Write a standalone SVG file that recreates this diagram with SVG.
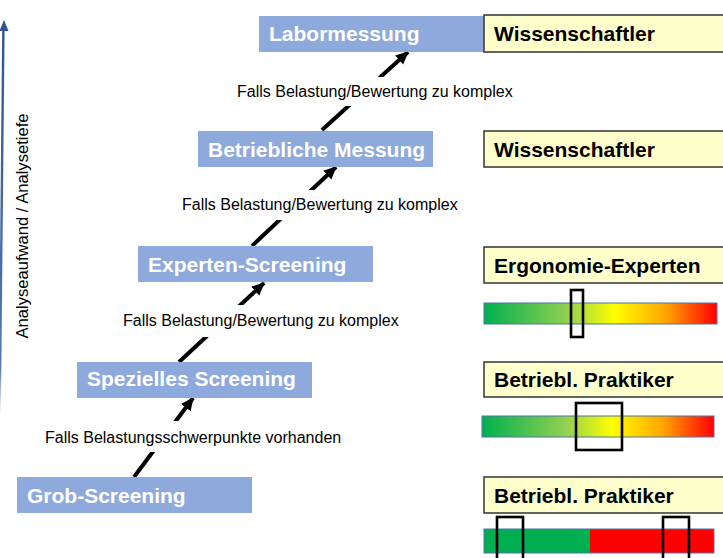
<svg xmlns="http://www.w3.org/2000/svg" width="723" height="558" viewBox="0 0 723 558">
<style>
.step{fill:#8EA9DB}
.stepT{font-family:"Liberation Sans",Arial,sans-serif;font-weight:bold;font-size:21px;fill:#fff}
.role{fill:#FFFFCC;stroke:#3F3F3F;stroke-width:1.6}
.roleT{font-family:"Liberation Sans",Arial,sans-serif;font-weight:bold;font-size:21px;fill:#000}
.lbl{font-family:"Liberation Sans",Arial,sans-serif;font-size:16px;fill:#000}
.lblbg{fill:#fff}
.conn{stroke:#000;stroke-width:4;fill:none;marker-end:url(#ah)}
.bar{stroke:#4F74A8;stroke-width:1}
.mark{fill:none;stroke:#000;stroke-width:2.6}
</style>
<defs>
<marker id="ah" markerUnits="userSpaceOnUse" markerWidth="14" markerHeight="14" viewBox="0 0 14 14" refX="12" refY="7" orient="auto">
<path d="M0,1 L13,7 L0,13 Z" fill="#000"/>
</marker>
<linearGradient id="grad" x1="0" y1="0" x2="1" y2="0">
<stop offset="0" stop-color="#00B050"/>
<stop offset="0.36" stop-color="#92D050"/>
<stop offset="0.56" stop-color="#FFFF00"/>
<stop offset="0.78" stop-color="#FFA500"/>
<stop offset="1" stop-color="#FF0000"/>
</linearGradient>
<linearGradient id="axisg" x1="0" y1="1" x2="0" y2="0">
<stop offset="0" stop-color="#2F5597" stop-opacity="0"/>
<stop offset="0.12" stop-color="#2F5597" stop-opacity="0.8"/>
<stop offset="1" stop-color="#2F5597"/>
</linearGradient>
</defs>
<rect width="723" height="558" fill="#fff"/>

<g id="axis">
<rect x="2.2" y="28" width="2.4" height="385" fill="url(#axisg)" transform="rotate(0.55 4 28)"/>
<path d="M4,20 L8.5,31 L-0.5,31 Z" fill="#2F5597"/>
<text class="lbl" transform="translate(28,226) rotate(-90)" text-anchor="middle" style="font-size:16.6px">Analyseaufwand / Analysetiefe</text>
</g>

<g id="connectors">
<line class="conn" x1="134" y1="477" x2="193" y2="398"/>
<line class="conn" x1="179" y1="362" x2="264" y2="283"/>
<line class="conn" x1="252" y1="246" x2="336" y2="167"/>
<line class="conn" x1="322" y1="130" x2="408" y2="52"/>
<rect class="lblbg" x="42" y="421" width="302" height="31"/>
<text class="lbl" x="45" y="443">Falls Belastungsschwerpunkte vorhanden</text>
<rect class="lblbg" x="120" y="305" width="280" height="32"/>
<text class="lbl" x="123" y="326">Falls Belastung/Bewertung zu komplex</text>
<rect class="lblbg" x="179" y="190" width="280" height="30"/>
<text class="lbl" x="182" y="210">Falls Belastung/Bewertung zu komplex</text>
<rect class="lblbg" x="234" y="77" width="280" height="29"/>
<text class="lbl" x="237" y="97">Falls Belastung/Bewertung zu komplex</text>
</g>

<g id="grob">
<rect class="step" x="17" y="477" width="235" height="36"/>
<text class="stepT" x="27" y="503">Grob-Screening</text>
</g>
<g id="spezielles">
<rect class="step" x="77" y="362" width="235" height="36"/>
<text class="stepT" x="87" y="386">Spezielles Screening</text>
</g>
<g id="experten">
<rect class="step" x="138" y="246" width="235" height="36"/>
<text class="stepT" x="148" y="272">Experten-Screening</text>
</g>
<g id="betriebliche">
<rect class="step" x="198" y="131" width="235" height="36"/>
<text class="stepT" x="208" y="157">Betriebliche Messung</text>
</g>
<g id="labor">
<rect class="step" x="259" y="16" width="235" height="36"/>
<text class="stepT" x="269" y="41">Labormessung</text>
</g>

<g id="role-labor">
<rect class="role" x="484" y="15" width="250" height="37"/>
<text class="roleT" x="494" y="41">Wissenschaftler</text>
</g>
<g id="role-betriebliche">
<rect class="role" x="484" y="131" width="250" height="36"/>
<text class="roleT" x="494" y="157">Wissenschaftler</text>
</g>
<g id="role-experten">
<rect class="role" x="484" y="247" width="250" height="36"/>
<text class="roleT" x="494" y="273">Ergonomie-Experten</text>
<rect class="bar" x="484" y="303" width="233" height="21" fill="url(#grad)"/>
<rect class="mark" x="571" y="290" width="12" height="47"/>
</g>
<g id="role-spezielles">
<rect class="role" x="484" y="362" width="250" height="35"/>
<text class="roleT" x="494" y="387">Betriebl. Praktiker</text>
<rect class="bar" x="482" y="416" width="232" height="21" fill="url(#grad)"/>
<rect class="mark" x="576" y="403" width="46" height="47"/>
</g>
<g id="role-grob">
<rect class="role" x="484" y="477" width="250" height="36"/>
<text class="roleT" x="494" y="503">Betriebl. Praktiker</text>
<rect x="484" y="529" width="106" height="24" fill="#00B050"/>
<rect x="590" y="529" width="124" height="24" fill="#FF0000"/>
<rect class="bar" x="484" y="529" width="230" height="24" fill="none"/>
<rect class="mark" x="497" y="517" width="26" height="50"/>
<rect class="mark" x="663" y="517" width="26" height="50"/>
</g>
</svg>
